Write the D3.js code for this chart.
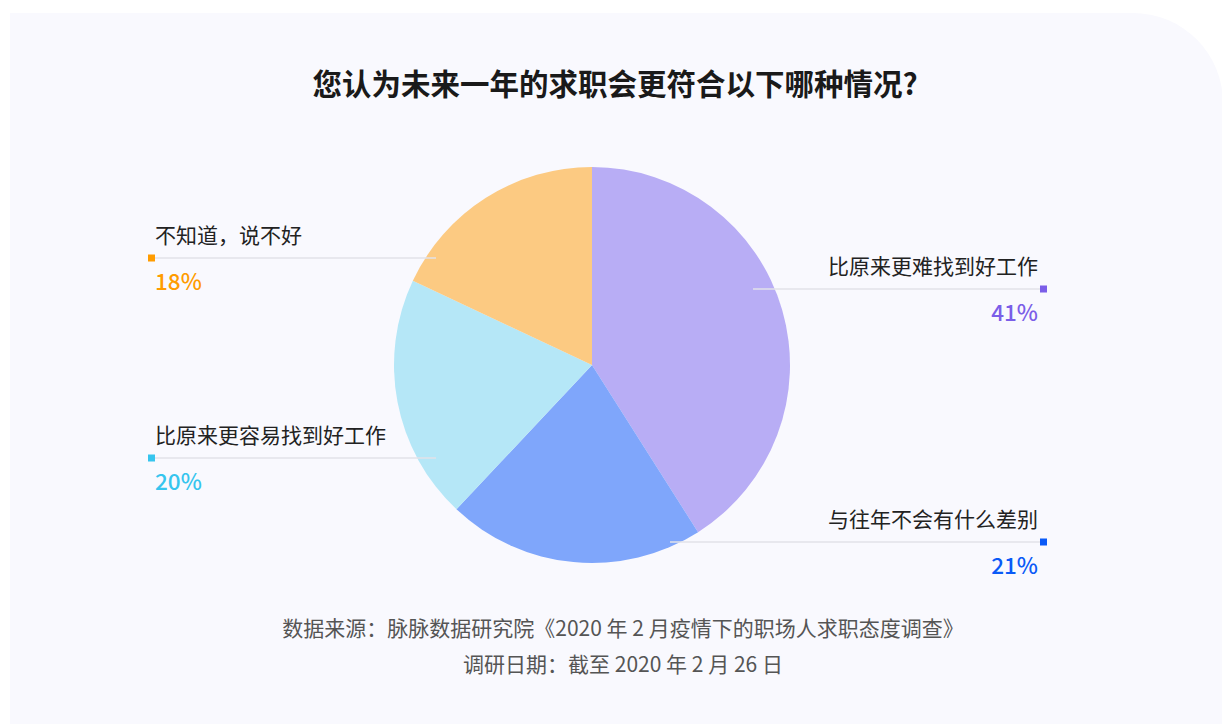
<!DOCTYPE html>
<html>
<head>
<meta charset="utf-8">
<script src="https://cdn.jsdelivr.net/npm/d3@7"></script>
<style>
  html, body { margin: 0; padding: 0; background: #ffffff; }
  svg { display: block; }
  text { font-family: "Noto Sans CJK SC", "Noto Sans", sans-serif; }
</style>
</head>
<body>
<svg id="chart" width="1222" height="725"></svg>
<script>
// ---- data ----
const title = "您认为未来一年的求职会更符合以下哪种情况?";
const categories = ["比原来更难找到好工作", "与往年不会有什么差别", "比原来更容易找到好工作", "不知道，说不好"];
const values = [41, 21, 20, 18];
const valueLabels = ["41%", "21%", "20%", "18%"];
const footerLines = ["数据来源：脉脉数据研究院《2020 年 2 月疫情下的职场人求职态度调查》", "调研日期：截至 2020 年 2 月 26 日"];

// ---- styles / layout ----
const sliceColors = ["#b8adf5", "#7fa6fb", "#b5e7f7", "#fcca82"];
const accentColors = ["#7b5ee8", "#0a5af7", "#36c5ee", "#ff9c00"];
// label side, leader-line y offset from centre, inner end x offset from centre
const labelSide = ["right", "right", "left", "left"];
const labelDy = [-76, 177, 93, -107];
const labelInnerDx = [161, 78, -156, -156];

const W = 1222, H = 725;
const cx = 592, cy = 365, R = 198;

const svg = d3.select("#chart");

// panel background with rounded top-right corner
const pl = 10, pt = 13, pr = 1223, pb = 724, cr = 90;
svg.append("path")
  .attr("d", `M${pl},${pt} H${pr - cr} A${cr},${cr} 0 0 1 ${pr},${pt + cr} V${pb} H${pl} Z`)
  .attr("fill", "#f9f9fe");

// title
svg.append("text")
  .attr("x", 615).attr("y", 95)
  .attr("text-anchor", "middle")
  .attr("font-size", 29.5).attr("font-weight", 700)
  .attr("fill", "#1a1a1a")
  .text(title);

// pie
const pie = d3.pie().sort(null).value(d => d)(values);
const arc = d3.arc().innerRadius(0).outerRadius(R);
const g = svg.append("g").attr("transform", `translate(${cx},${cy})`);
g.selectAll("path.slice").data(pie).join("path")
  .attr("class", "slice")
  .attr("d", arc)
  .attr("fill", (d, i) => sliceColors[i]);

// labels
const xLeft = 148, xRight = 1047, sq = 7;
const lab = svg.append("g");
categories.forEach((c, i) => {
  const y = cy + labelDy[i];
  const inner = cx + labelInnerDx[i];
  const right = labelSide[i] === "right";
  const outer = right ? xRight - sq : xLeft + sq;
  lab.append("line")
    .attr("x1", inner).attr("x2", outer)
    .attr("y1", y).attr("y2", y)
    .attr("stroke", "#e2e2e8").attr("stroke-width", 1.5);
  lab.append("rect")
    .attr("x", right ? xRight - sq : xLeft)
    .attr("y", y - sq / 2)
    .attr("width", sq).attr("height", sq)
    .attr("fill", accentColors[i]);
  const tx = right ? xRight - sq - 2 : xLeft + sq;
  const anchor = right ? "end" : "start";
  lab.append("text")
    .attr("x", tx).attr("y", y - 15)
    .attr("text-anchor", anchor)
    .attr("font-size", 21)
    .attr("fill", "#222222")
    .text(c);
  lab.append("text")
    .attr("x", tx).attr("y", y + 32)
    .attr("text-anchor", anchor)
    .attr("font-size", 22.5).attr("font-weight", 500)
    .attr("fill", accentColors[i])
    .text(valueLabels[i]);
});

// footer
svg.selectAll("text.footer").data(footerLines).join("text")
  .attr("class", "footer")
  .attr("x", 623)
  .attr("y", (d, i) => 636 + i * 36)
  .attr("text-anchor", "middle")
  .attr("font-size", 21)
  .attr("fill", "#555555")
  .text(d => d);
</script>
</body>
</html>
